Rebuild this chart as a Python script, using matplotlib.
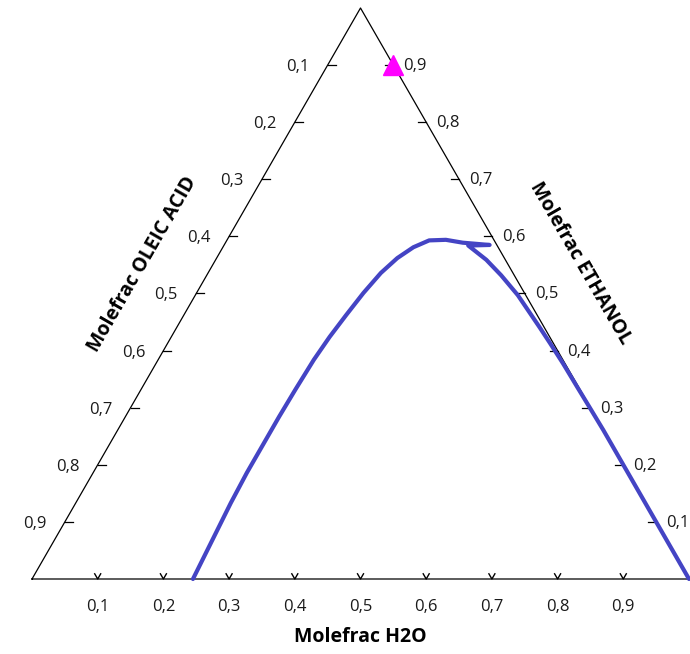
import numpy as np
import matplotlib
matplotlib.use("Agg")
import matplotlib.pyplot as plt

plt.rcParams['font.family'] = ['Open Sans', 'DejaVu Sans']

# Binodal curve: mole fractions of H2O and ETHANOL (OLEIC ACID = 1 - both)
binodal_h2o = [0.245, 0.240, 0.236, 0.234, 0.234, 0.234, 0.235, 0.237, 0.241,
               0.247, 0.254, 0.263, 0.275, 0.290, 0.308, 0.333, 0.361, 0.404,
               0.372, 0.412, 0.448, 0.491, 0.552, 0.582, 0.619, 0.662, 0.698,
               0.739, 0.762, 0.821, 0.867, 0.902, 0.954, 1.000]
binodal_ethanol = [0.000, 0.074, 0.133, 0.186, 0.231, 0.284, 0.331, 0.384, 0.424,
                   0.462, 0.501, 0.536, 0.562, 0.581, 0.593, 0.594, 0.589, 0.585,
                   0.584, 0.559, 0.532, 0.497, 0.441, 0.413, 0.378, 0.336, 0.301,
                   0.261, 0.238, 0.179, 0.133, 0.098, 0.046, 0.000]

# Feed point
feed_h2o = [0.10]
feed_ethanol = [0.90]

tick_values = [0.1, 0.2, 0.3, 0.4, 0.5, 0.6, 0.7, 0.8, 0.9]
tick_labels = ['0,1', '0,2', '0,3', '0,4', '0,5', '0,6', '0,7', '0,8', '0,9']

H = np.sqrt(3) / 2


def to_xy(h2o, ethanol):
    h2o = np.asarray(h2o, dtype=float)
    ethanol = np.asarray(ethanol, dtype=float)
    return h2o + ethanol / 2, ethanol * H


W, Hpx = 690, 654
fig = plt.figure(figsize=(W / 100, Hpx / 100), dpi=100)
ax = fig.add_axes([0, 0, 1, 1])
# triangle placement: left vertex x=32, right vertex x=689, base y=579, apex y=8
sx = (689 - 32)
sy = (579 - 8) / H
ax.set_xlim(-32 / sx, (W - 32) / sx)
ax.set_ylim(-(Hpx - 579) / sy, 579 / sy)
ax.axis('off')

# triangle frame
ax.plot([0, 1, 0.5, 0], [0, 0, H, 0], color='black', lw=0.9, zorder=2)

dx = 1 / sx  # one pixel in data units (x)
dy = 1 / sy

label_kw = dict(fontsize=12, color='#1a1a1a', textcoords='offset pixels')

for v, lab in zip(tick_values, tick_labels):
    # bottom axis: H2O
    x0, y0 = to_xy(v, 0)
    L = 6
    ax.plot([x0 - L * 0.5 * dx, x0, x0 + L * 0.5 * dx],
            [L * H * dy, 0, L * H * dy], color='black', lw=1.0, zorder=2)
    ax.annotate(lab, (x0, y0), xytext=(0, -28), ha='center', va='center', **label_kw)

    # left axis: OLEIC ACID (0 at apex, 1 at bottom-left)
    xl, yl = to_xy(0, 1 - v)
    ax.plot([xl, xl + 8 * dx], [yl, yl], color='black', lw=0.9, zorder=2)
    ax.annotate(lab, (xl, yl), xytext=(-30, -2), ha='center', va='center', **label_kw)

    # right axis: ETHANOL (0 at bottom-right, 1 at apex)
    xr, yr = to_xy(1 - v, v)
    ax.plot([xr - 8 * dx, xr], [yr, yr], color='black', lw=0.9, zorder=2)
    ax.annotate(lab, (xr, yr), xytext=(10, -1), ha='left', va='center', **label_kw)

# binodal curve
bx, by = to_xy(binodal_h2o, binodal_ethanol)
ax.plot(bx, by, color='#4444C4', lw=3, solid_joinstyle='round',
        solid_capstyle='round', zorder=3)

# feed marker
fx, fy = to_xy(feed_h2o, feed_ethanol)
ax.plot(fx, fy, marker='^', color='#FF00FF', markersize=15, linestyle='none',
        zorder=4, clip_on=False)

# axis titles
title_kw = dict(fontsize=14, fontweight='bold', color='black')
ax.annotate('Molefrac H2O', (0.5, 0), xytext=(0, -58), textcoords='offset pixels',
            ha='center', va='center', **title_kw)
ax.annotate('Molefrac OLEIC ACID', (0.25, H / 2), xytext=(-54, 29),
            textcoords='offset pixels', ha='center', va='center', rotation=60,
            rotation_mode='anchor', **title_kw)
ax.annotate('Molefrac ETHANOL', (0.75, H / 2), xytext=(56, 30),
            textcoords='offset pixels', ha='center', va='center', rotation=-60,
            rotation_mode='anchor', **title_kw)

fig.savefig('out.png', dpi=100)
